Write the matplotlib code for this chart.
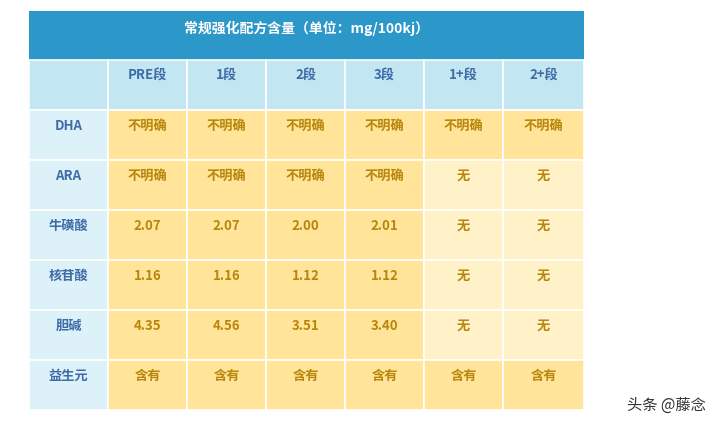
import matplotlib
matplotlib.use("Agg")
import matplotlib.pyplot as plt
from matplotlib.patches import Rectangle

plt.rcParams['font.family'] = ['Noto Sans CJK SC', 'DejaVu Sans']

title = "常规强化配方含量（单位：mg/100kj）"
columns = ["PRE段", "1段", "2段", "3段", "1+段", "2+段"]
rows = ["DHA", "ARA", "牛磺酸", "核苷酸", "胆碱", "益生元"]
values = [
    ["不明确", "不明确", "不明确", "不明确", "不明确", "不明确"],
    ["不明确", "不明确", "不明确", "不明确", "无", "无"],
    ["2.07", "2.07", "2.00", "2.01", "无", "无"],
    ["1.16", "1.16", "1.12", "1.12", "无", "无"],
    ["4.35", "4.56", "3.51", "3.40", "无", "无"],
    ["含有", "含有", "含有", "含有", "含有", "含有"],
]

W, H = 726, 428
fig = plt.figure(figsize=(W/100, H/100), dpi=100)
ax = fig.add_axes([0, 0, 1, 1])
ax.set_xlim(0, W); ax.set_ylim(H, 0); ax.axis('off')

x0, y0 = 29, 11
colw = [79] + [79]*6
xs = [x0]
for w in colw:
    xs.append(xs[-1] + w)
xs[-1] = 584
title_h, rowh = 49, 50

ax.add_patch(Rectangle((x0, y0), xs[-1]-x0, title_h, color="#2C97C9", lw=0))
ax.text((x0+xs[-1])/2, y0+17, title, color="white", fontsize=10, fontweight="bold",
        ha="center", va="center")

blue_txt = "#3F6CA8"
gold_txt = "#B8860B"
all_rows = [[""] + columns] + [[r] + v for r, v in zip(rows, values)]
for i, row in enumerate(all_rows):
    ytop = y0 + title_h + i*rowh
    for j, txt in enumerate(row):
        if i == 0:
            fc, tc = "#C2E6F2", blue_txt
        elif j == 0:
            fc, tc = "#DDF1F9", blue_txt
        elif txt == "无" or (j >= 5 and i in (2, 3, 4, 5) and txt == "无"):
            fc, tc = "#FFF2C9", gold_txt
        else:
            fc, tc = "#FFE49A", gold_txt
        ax.add_patch(Rectangle((xs[j], ytop), xs[j+1]-xs[j], rowh, facecolor=fc,
                               edgecolor="white", lw=1.2))
        ax.text((xs[j]+xs[j+1])/2, ytop+16, txt, color=tc, fontsize=9.5,
                fontweight="bold", ha="center", va="center")

ax.text(666, 405, "头条 @藤念", color="#333333", fontsize=11, ha="center", va="center")
fig.savefig("out.png", dpi=100, facecolor="white")
